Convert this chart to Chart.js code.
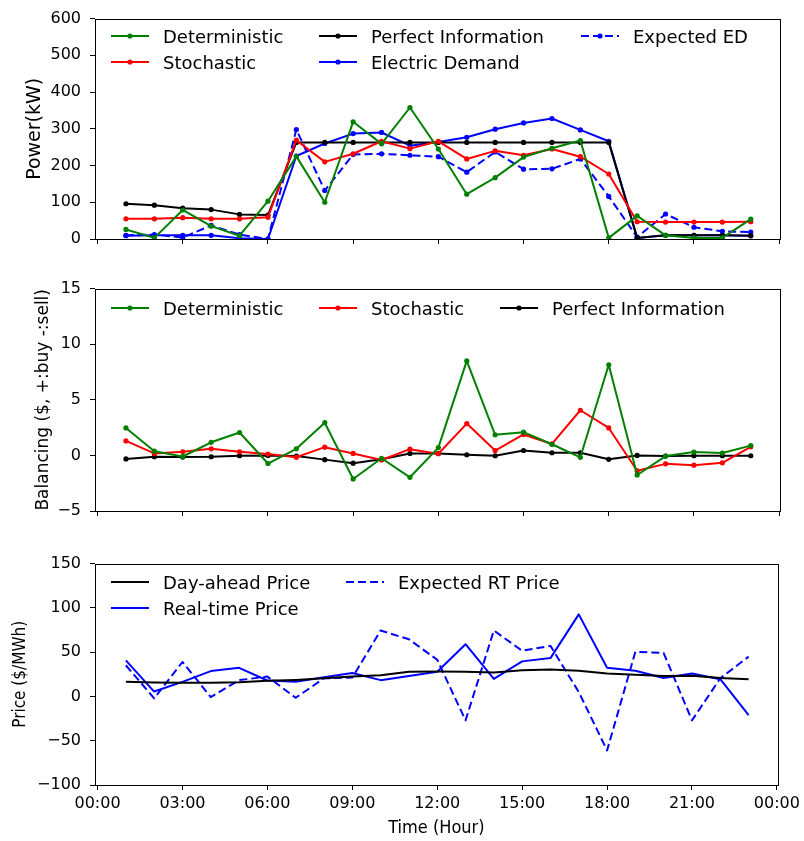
<!DOCTYPE html>
<html>
<head>
<meta charset="utf-8">
<script src="https://cdn.jsdelivr.net/npm/chart.js@4.4.0/dist/chart.umd.min.js"></script>
<style>
body { margin: 0; background: #fff; }
#page { position: relative; width: 804px; height: 841px; overflow: hidden; font-family: "DejaVu Sans", sans-serif; }
canvas { position: absolute; left: 0; }
.item { position: absolute; height: 26px; display: flex; align-items: center; font-size: 18px; color: #000; white-space: nowrap; }
.item svg { margin-right: 14px; }
</style>
</head>
<body>
<div id="page">
  <canvas id="power" width="804" height="262" style="top:0px"></canvas>
  <canvas id="balance" width="804" height="262" style="top:270px"></canvas>
  <canvas id="price" width="804" height="296" style="top:545px"></canvas>
</div>
<script>
// Hours of the day (x values) and axis ticks
const hours = [1, 2, 3, 4, 5, 6, 7, 8, 9, 10, 11, 12, 13, 14, 15, 16, 17, 18, 19, 20, 21, 22, 23];
const tickHours = [0, 3, 6, 9, 12, 15, 18, 21, 24];
const tickLabels = ['00:00', '03:00', '06:00', '09:00', '12:00', '15:00', '18:00', '21:00', '00:00'];

// Power (kW)
const powerDeterministic = [26, 3, 79, 35, 9, 103, 225, 100, 319, 259, 358, 245, 122, 167, 223, 247, 268, 3, 63, 10, 3, 3, 54];
const powerStochastic = [55, 55, 58, 55, 55, 59, 269, 210, 232, 266, 246, 266, 218, 240, 228, 245, 224, 177, 47, 46, 46, 46, 47];
const powerPerfect = [96, 92, 84, 80, 67, 65, 263, 263, 263, 263, 263, 263, 263, 263, 263, 263, 263, 263, 3, 10, 10, 10, 9];
const powerDemand = [9, 10, 10, 10, 2, 0, 226, 260, 287, 290, 254, 264, 277, 299, 316, 328, 297, 266, 3, 10, 10, 10, 9];
const powerExpected = [10, 12, 4, 37, 12, 0, 298, 132, 230, 232, 228, 224, 182, 237, 190, 191, 218, 116, 5, 68, 32, 21, 19];

// Balancing ($)
const balDeterministic = [2.47, 0.38, -0.1, 1.18, 2.06, -0.73, 0.59, 2.94, -2.12, -0.26, -1.97, 0.7, 8.5, 1.85, 2.09, 1.0, -0.17, 8.15, -1.76, -0.06, 0.3, 0.21, 0.88];
const balStochastic = [1.3, 0.18, 0.33, 0.59, 0.33, 0.12, -0.17, 0.74, 0.18, -0.41, 0.56, 0.15, 2.86, 0.44, 1.88, 1.03, 4.06, 2.47, -1.38, -0.76, -0.88, -0.67, 0.77];
const balPerfect = [-0.32, -0.12, -0.15, -0.12, -0.03, 0, -0.06, -0.38, -0.7, -0.35, 0.18, 0.18, 0.06, -0.03, 0.44, 0.24, 0.24, -0.35, 0, -0.06, -0.03, -0.03, -0.03];

// Price ($/MWh)
const priceDayAhead = [16.5, 15.8, 15.4, 15.4, 16, 17.6, 18.7, 20.5, 22.4, 23.8, 27.9, 28.2, 27.9, 27.1, 29.7, 30.4, 29, 26, 24.6, 23, 23.5, 20.9, 19.5];
const priceRealTime = [40.7, 5.5, 16.5, 28.6, 32.3, 18, 16.5, 21.6, 26.4, 18.4, 23, 27.9, 59, 19.8, 39.6, 43.3, 92.7, 32.3, 29, 20.9, 26, 19.5, -21.2];
const priceExpected = [35.2, -2.2, 38.9, -0.7, 18.4, 22.4, -1.5, 20.5, 21.3, 74.4, 64.5, 41.4, -27, 74.4, 51.6, 57.1, 5, -61, 50.5, 49, -27, 20.5, 45];

const GREEN = '#008000', RED = '#ff0000', BLUE = '#0000ff', BLACK = '#000000';
const DASH = [8, 4];

function pts(values) {
    return values.map((v, i) => ({ x: hours[i], y: v }));
}

function series(label, values, color, marker, dashed) {
    return {
        label: label,
        data: pts(values),
        borderColor: color,
        backgroundColor: color,
        borderWidth: 2,
        borderDash: dashed ? DASH : [],
        pointRadius: marker ? 2.6 : 0,
        pointBorderWidth: 0,
        pointBackgroundColor: color,
        tension: 0,
        fill: false,
        borderJoinStyle: 'round'
    };
}

// box around the plot area, like matplotlib spines
const framePlugin = {
    id: 'frame',
    afterDatasetsDraw(chart) {
        const a = chart.chartArea;
        const ctx = chart.ctx;
        ctx.save();
        ctx.strokeStyle = '#000';
        ctx.lineWidth = 1;
        ctx.strokeRect(Math.round(a.left) + 0.5, Math.round(a.top) + 0.5,
            Math.round(a.right - a.left), Math.round(a.bottom - a.top));
        ctx.restore();
    }
};

function minusSign(v) {
    return v < 0 ? '\u2212' + Math.abs(v) : String(v);
}

function makePanel(id, datasets, cfg) {
    return new Chart(document.getElementById(id), {
        type: 'line',
        data: { datasets: datasets },
        plugins: [framePlugin],
        options: {
            responsive: false,
            animation: false,
            layout: { padding: { top: cfg.padTop, left: cfg.padLeft, right: 24, bottom: 0 } },
            plugins: { legend: { display: false }, tooltip: { enabled: false } },
            scales: {
                x: {
                    type: 'linear',
                    min: -0.09,
                    max: 24.03,
                    afterBuildTicks: s => { s.ticks = tickHours.map(v => ({ value: v })); },
                    afterFit: s => { s.height = cfg.xAxisH; },
                    border: { display: false },
                    grid: { drawOnChartArea: false, drawTicks: true, tickLength: 5, color: '#000', lineWidth: 1 },
                    ticks: {
                        display: cfg.showX,
                        autoSkip: false,
                        maxRotation: 0,
                        padding: 4,
                        color: '#000',
                        font: { family: 'DejaVu Sans', size: 16 },
                        callback: (v, i) => tickLabels[i]
                    },
                    title: {
                        display: cfg.showX,
                        text: 'Time (Hour)',
                        color: '#000',
                        font: { family: '"DejaVu Sans Condensed", "DejaVu Sans"', size: 18 },
                        padding: { top: 0, bottom: 2 }
                    }
                },
                y: {
                    min: cfg.yMin,
                    max: cfg.yMax,
                    afterFit: s => { s.width = cfg.axisW; },
                    border: { display: false },
                    grid: { drawOnChartArea: false, drawTicks: true, tickLength: 5, color: '#000', lineWidth: 1 },
                    ticks: {
                        stepSize: cfg.yStep,
                        padding: 9,
                        color: '#000',
                        font: { family: 'DejaVu Sans', size: 16 },
                        callback: v => minusSign(v)
                    },
                    title: {
                        display: true,
                        text: cfg.yTitle,
                        color: '#000',
                        font: { family: cfg.titleFamily, size: cfg.titleSize },
                        padding: { top: 0, bottom: 0 }
                    }
                }
            }
        }
    });
}

const powerSets = [
    series('Deterministic', powerDeterministic, GREEN, true, false),
    series('Stochastic', powerStochastic, RED, true, false),
    series('Perfect Information', powerPerfect, BLACK, true, false),
    series('Electric Demand', powerDemand, BLUE, true, false),
    series('Expected ED', powerExpected, BLUE, true, true)
];
const balanceSets = [
    series('Deterministic', balDeterministic, GREEN, true, false),
    series('Stochastic', balStochastic, RED, true, false),
    series('Perfect Information', balPerfect, BLACK, true, false)
];
const priceSets = [
    series('Day-ahead Price', priceDayAhead, BLACK, false, false),
    series('Real-time Price', priceRealTime, BLUE, false, false),
    series('Expected RT Price', priceExpected, BLUE, false, true)
];

makePanel('power', powerSets, { padTop: 11, padLeft: 24, axisW: 71, xAxisH: 23, showX: false,
    yMin: 0, yMax: 600, yStep: 100, yTitle: 'Power(kW)', titleSize: 19, titleFamily: 'DejaVu Sans' });
makePanel('balance', balanceSets, { padTop: 15, padLeft: 33, axisW: 62, xAxisH: 21, showX: false,
    yMin: -5, yMax: 15, yStep: 5, yTitle: 'Balancing ($, +:buy -:sell)', titleSize: 17, titleFamily: 'DejaVu Sans' });
makePanel('price', priceSets, { padTop: 12, padLeft: 10, axisW: 85, xAxisH: 56, showX: true,
    yMin: -100, yMax: 150, yStep: 50, yTitle: 'Price ($/MWh)', titleSize: 17,
    titleFamily: '"DejaVu Sans Condensed", "DejaVu Sans"' });

// HTML legends placed inside each panel (column-wise like matplotlib ncol=3)
function legendItem(ds, left, centerY) {
    const div = document.createElement('div');
    div.className = 'item';
    div.style.left = left + 'px';
    div.style.top = (centerY - 13) + 'px';
    const dash = ds.borderDash.length ? ' stroke-dasharray="' + ds.borderDash.join(',') + '"' : '';
    const dot = ds.pointRadius ? '<circle cx="19" cy="5" r="2.6" fill="' + ds.borderColor + '"/>' : '';
    div.innerHTML = '<svg width="38" height="10"><line x1="0" y1="5" x2="38" y2="5" stroke="' +
        ds.borderColor + '" stroke-width="2"' + dash + '/>' + dot + '</svg><span>' + ds.label + '</span>';
    document.getElementById('page').appendChild(div);
}

legendItem(powerSets[0], 111, 36);
legendItem(powerSets[1], 111, 62);
legendItem(powerSets[2], 319, 36);
legendItem(powerSets[3], 319, 62);
legendItem(powerSets[4], 581, 36);

legendItem(balanceSets[0], 111, 308);
legendItem(balanceSets[1], 319, 308);
legendItem(balanceSets[2], 500, 308);

legendItem(priceSets[0], 111, 582);
legendItem(priceSets[1], 111, 608);
legendItem(priceSets[2], 346, 582);
</script>
</body>
</html>
